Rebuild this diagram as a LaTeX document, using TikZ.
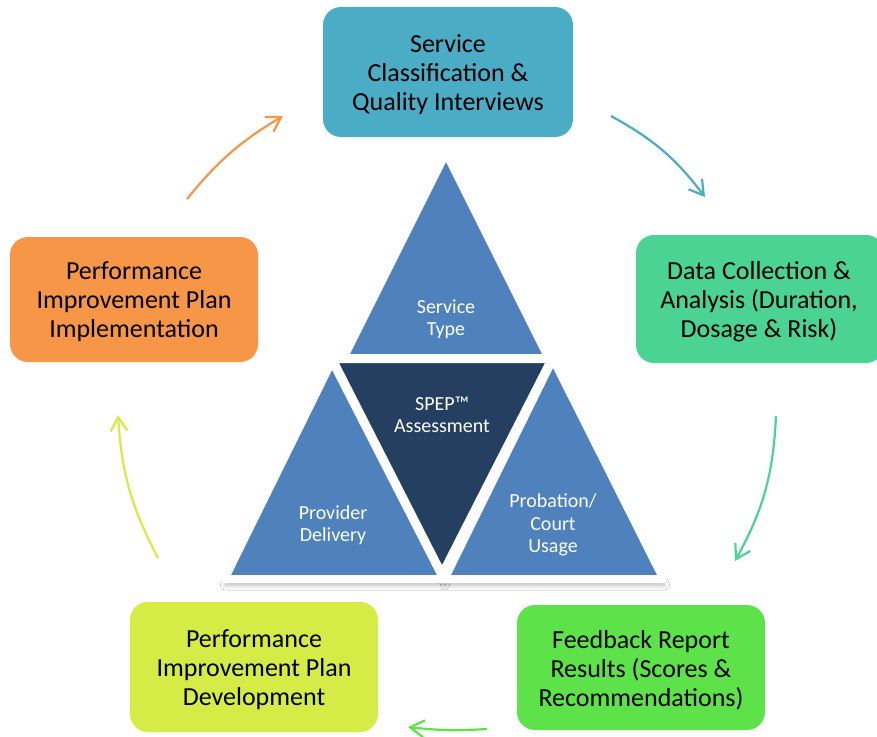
\documentclass[tikz,border=0pt]{standalone}
\usepackage{fontspec}
\setmainfont{Carlito}
\usetikzlibrary{arrows.meta,shadows.blur}
\definecolor{cTeal}{HTML}{4BACC6}
\definecolor{cData}{HTML}{4AD392}
\definecolor{cFeed}{HTML}{5EE24A}
\definecolor{cDev}{HTML}{D4EC45}
\definecolor{cOrange}{HTML}{F79646}
\definecolor{triBlue}{HTML}{4F81BD}
\definecolor{triDark}{HTML}{253F60}
\begin{document}
\begin{tikzpicture}[x=1pt,y=-1pt,
  procbox/.style={rectangle, rounded corners=18pt, inner sep=0pt},
  boxtext/.style={align=center, inner sep=0pt, font=\fontsize{26}{29}\selectfont, text=black},
  tri/.style={draw=white, line width=8pt, line join=round},
  trishadow/.style={blur shadow={shadow xshift=1pt, shadow yshift=-6pt, shadow blur radius=5pt, shadow opacity=30}},
  tritext/.style={align=center, text=white, font=\fontsize{20}{22.5}\selectfont},
  arr/.style={line width=2.2pt, -{Straight Barb[length=14pt,width=17pt]}}]
\clip (0,0) rectangle (877,736);
\fill[white] (0,0) rectangle (877,736);
% process boxes
\node[procbox, fill=cTeal, minimum width=250pt, minimum height=130pt] (svc) at (448,72) {};
\node[procbox, fill=cData, minimum width=248pt, minimum height=128pt] (data) at (760,299) {};
\node[procbox, fill=cFeed, minimum width=248pt, minimum height=125pt] (feed) at (641,667.5) {};
\node[procbox, fill=cDev, minimum width=248pt, minimum height=130pt] (dev) at (254,667) {};
\node[procbox, fill=cOrange, minimum width=248pt, minimum height=125pt] (impl) at (134,299.5) {};
\node[boxtext] (svcT) at ([yshift=-2.5pt]svc.center) {Service\\Classification \&\\Quality Interviews};
\node[boxtext] (dataT) at ([xshift=-1pt,yshift=-2.5pt]data.center) {Data Collection \&\\Analysis (Duration,\\Dosage \& Risk)};
\node[boxtext] (feedT) at ([yshift=-2.5pt]feed.center) {Feedback Report\\Results (Scores \&\\Recommendations)};
\node[boxtext] (devT) at ([yshift=-2.5pt]dev.center) {Performance\\Improvement Plan\\Development};
\node[boxtext] (implT) at ([yshift=-2.5pt]impl.center) {Performance\\Improvement Plan\\Implementation};
% arrows
\coordinate (a1s) at (187,199); \coordinate (a1e) at (283,116);
\coordinate (a2s) at (611,116); \coordinate (a2e) at (705,197);
\coordinate (a3s) at (776,416); \coordinate (a3e) at (735,561);
\coordinate (a4s) at (487,729); \coordinate (a4e) at (408,727);
\coordinate (a5s) at (158,558); \coordinate (a5e) at (118,415);
\draw[arr, cOrange] (a1s) to[bend left=10] (a1e);
\draw[arr, cTeal] (a2s) to[bend left=12] (a2e);
\draw[arr, cData] (a3s) to[bend left=13] (a3e);
\draw[arr, cFeed] (a4s) to[bend left=5] (a4e);
\draw[arr, cDev] (a5s) to[bend left=12] (a5e);
% triangle shadows
\path[trishadow] (446,153) -- (343.5,358) -- (548.5,358) -- cycle;
\path[trishadow] (332,361) -- (224.5,579) -- (443.5,579) -- cycle;
\path[trishadow] (553,359) -- (444.5,579) -- (663.5,579) -- cycle;
\path[trishadow] (332.5,359) -- (551.5,359) -- (442,574) -- cycle;
% triangles
\filldraw[tri, fill=triBlue] (446,153) -- (343.5,358) -- (548.5,358) -- cycle;
\filldraw[tri, fill=triBlue] (332,361) -- (224.5,579) -- (443.5,579) -- cycle;
\filldraw[tri, fill=triBlue] (553,359) -- (444.5,579) -- (663.5,579) -- cycle;
\filldraw[tri, fill=triDark] (332.5,359) -- (551.5,359) -- (442,574) -- cycle;
% triangle labels
\node[tritext] (tType) at (446,319) {Service\\Type};
\node[tritext] (tSpep) at (442,415) {SPEP™\\Assessment};
\node[tritext] (tProv) at (333,525) {Provider\\Delivery};
\node[tritext] (tProb) at (553,525) {Probation/\\Court\\Usage};
\end{tikzpicture}
\end{document}
